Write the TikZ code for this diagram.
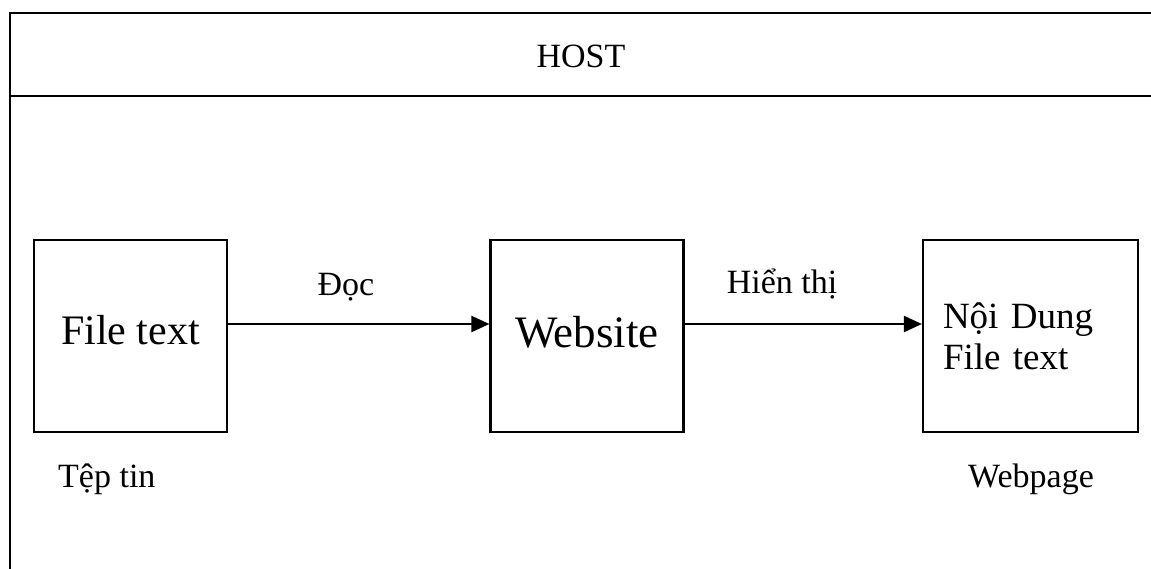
\documentclass[tikz,border=0pt]{standalone}
\usepackage{fontspec}
\setmainfont{Liberation Serif}
\usetikzlibrary{arrows.meta}
\begin{document}
\begin{tikzpicture}[x=1pt, y=-1pt,
    block/.style ={rectangle, draw, line width=2.2pt, minimum width=193pt, minimum height=192pt, inner sep=0pt},
    caption/.style ={inner sep=0pt, font=\fontsize{34}{40}\selectfont},
    flow/.style ={line width=2.2pt, -{Triangle[length=18pt,width=16pt]}}]
   \useasboundingbox (0,0) rectangle (1151,568);
   % host frame and title row
   \draw[line width=2.6pt] (10,570) -- (10,13) -- (1155,13);
   \draw[line width=2.6pt] (10,96) -- (1155,96);
   \node[caption, anchor=base] (host) at (581,67) {HOST};
   % the three blocks
   \node[block, font=\fontsize{42}{48}\selectfont] (F) at (130.5,336) {\raisebox{13pt}{File text}};
   \node[block, font=\fontsize{45}{50}\selectfont] (W) at (587,336) {\raisebox{9pt}{Website}};
   \node[block, minimum width=215pt, font=\fontsize{37}{41}\selectfont,
         text width=175pt, align=left] (N) at (1030.5,336) {Nội Dung\\File text};
   \draw[flow] ([yshift=12pt]F.east) to ([yshift=12pt]W.west);
   \draw[flow] ([yshift=12pt]W.east) to ([yshift=12pt]N.west);
   % labels
   \node[caption, anchor=base] (doc) at (346,295) {Đọc};
   \node[caption, anchor=base] (hienthi) at (782,293) {Hiển thị};
   \node[caption, anchor=base west] (teptin) at (58,487) {Tệp tin};
   \node[caption, anchor=base west] (webpage) at (968,487) {Webpage};
 \end{tikzpicture}
\end{document}
